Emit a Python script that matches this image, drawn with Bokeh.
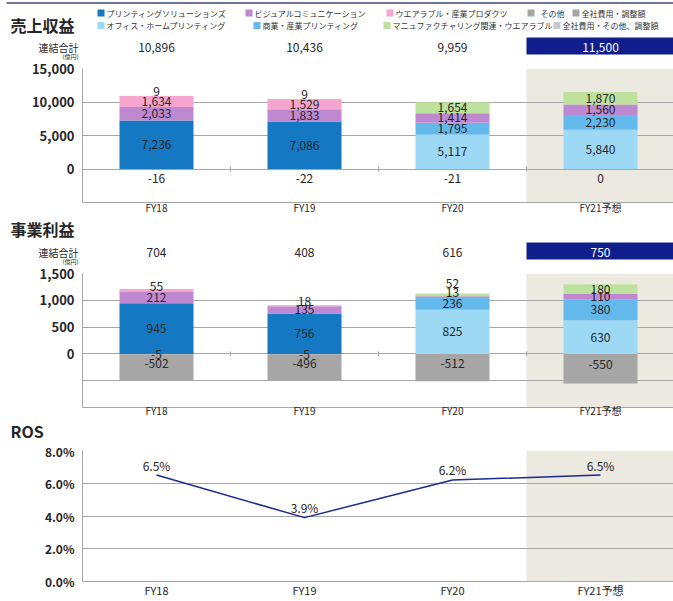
from bokeh.plotting import figure
from bokeh.layouts import column
from bokeh.models import (ColumnDataSource, FixedTicker, Range1d, BoxAnnotation,
                          NumeralTickFormatter, PrintfTickFormatter)
from bokeh.core.properties import value
from bokeh.embed import file_html
from bokeh.resources import INLINE
import math

# ---------------- data ----------------
years = ["FY18", "FY19", "FY20", "FY21予想"]

# 売上収益 (億円)
rev_printing_solutions = [7236, 7086, None, None]
rev_office_home = [None, None, 5117, 5840]
rev_commercial_industrial = [None, None, 1795, 2230]
rev_visual = [2033, 1833, 1414, 1560]
rev_wearable_industrial = [1634, 1529, None, None]
rev_manufacturing = [None, None, 1654, 1870]
rev_other = [9, 9, None, None]
rev_corporate = [-16, -22, -21, 0]
rev_total = [10896, 10436, 9959, 11500]

# 事業利益 (億円)
op_printing_solutions = [945, 756, None, None]
op_office_home = [None, None, 825, 630]
op_commercial_industrial = [None, None, 236, 380]
op_visual = [212, 135, 13, 110]
op_wearable_industrial = [55, 18, None, None]
op_manufacturing = [None, None, 52, 180]
op_other = [-5, -5, None, None]
op_corporate = [-502, -496, -512, -550]
op_total = [704, 408, 616, 750]

# ROS (%)
ros = [6.5, 3.9, 6.2, 6.5]

legend_row1 = ["プリンティングソリューションズ", "ビジュアルコミュニケーション",
               "ウエアラブル・産業プロダクツ", "その他", "全社費用・調整額"]
legend_row2 = ["オフィス・ホームプリンティング", "商業・産業プリンティング",
               "マニュファクチャリング関連・ウエアラブル", "全社費用・その他、調整額"]

rev_ticks = [-5000, 0, 5000, 10000, 15000]
op_ticks = [-1000, -500, 0, 500, 1000, 1500]
ros_ticks = [0, 2, 4, 6, 8]

# ---------------- style ----------------
JP = "Noto Sans CJK JP"
C_PS = "#1479C2"
C_OH = "#9DD9F5"
C_COM = "#63B8EC"
C_VIS = "#BE89D1"
C_WEAR = "#F6A6CE"
C_MFG = "#BEE29E"
C_OTHER = "#A6A6A6"
C_CORP = "#A6A6A6"
C_CORP2 = "#C9C9C9"
NAVY = "#101E8C"
LINE = "#1B2A8E"
SHADE = "#ECE9E0"
GRID = "#A6A6A6"
TEXT = "#262626"
RULE = "#3C4877"

W = 673
LEFT = 82
CAT_PX = 148
X_END = (W - LEFT) / CAT_PX
xs = [i + 0.5 for i in range(len(years))]
boundaries = [float(i) for i in range(1, len(years))]

seg_colors = [C_PS, C_OH, C_COM, C_VIS, C_WEAR, C_MFG, C_OTHER, C_CORP]


def px(page_x):
    """page x pixel -> shared data x"""
    return (page_x - LEFT) / CAT_PX


# ---------------- header figures (text rows) ----------------
def header_fig(h):
    p = figure(width=W, height=h, x_range=Range1d(px(0), px(W)), y_range=Range1d(h, 0),
               min_border_left=0, min_border_right=0, min_border_top=0, min_border_bottom=0,
               x_axis_location=None, y_axis_location=None, frame_align=False,
               output_backend="svg", toolbar_location=None)
    p.outline_line_color = None
    p.grid.visible = False
    return p


def htext(p, x, y, text, size, color=TEXT, align="center", style="normal"):
    p.text(x=[x], y=[y], text=[text], text_font=value(JP), text_font_size=size,
           text_color=color, text_align=align, text_baseline="middle",
           text_font_style=style)


def header_row(p, totals, y, box_top, box_bottom, unit_y):
    htext(p, px(78), y, "連結合計", "10px", align="right")
    htext(p, px(70), unit_y, "(億円)", "6px")
    p.quad(left=[xs[-1] - 0.5], right=[X_END + 0.5], top=[box_top], bottom=[box_bottom],
           fill_color=NAVY, line_color=None)
    src = ColumnDataSource(dict(x=xs, y=[y] * len(xs), t=[f"{v:,}" for v in totals],
                                c=[TEXT] * (len(xs) - 1) + ["white"]))
    p.text(x="x", y="y", text="t", text_color="c", source=src, text_font=value(JP),
           text_font_size="12px", text_align="center", text_baseline="middle")


# ---------------- chart figures ----------------
def chart_fig(height, top, bottom, y0, y1, ticks, standoff):
    p = figure(width=W, height=height, min_border_left=LEFT, min_border_right=0,
               min_border_top=top, min_border_bottom=bottom, frame_align=False,
               x_range=Range1d(0, X_END), y_range=Range1d(y0, y1),
               output_backend="svg", toolbar_location=None)
    p.outline_line_color = None
    p.xgrid.grid_line_color = None
    p.ygrid.grid_line_color = GRID
    p.ygrid.ticker = FixedTicker(ticks=ticks)
    p.add_layout(BoxAnnotation(left=xs[-1] - 0.5, fill_color=SHADE, fill_alpha=1,
                               line_color=None, level="image"))
    for ax in (p.xaxis[0], p.yaxis[0]):
        ax.axis_line_color = GRID
        ax.major_tick_line_color = None
        ax.minor_tick_line_color = None
        ax.major_tick_out = 0
        ax.major_tick_in = 0
        ax.minor_tick_out = 0
        ax.minor_tick_in = 0
        ax.major_label_text_font = JP
        ax.major_label_text_color = TEXT
        ax.major_label_text_line_height = 1.0
    xa = p.xaxis[0]
    xa.ticker = FixedTicker(ticks=xs)
    xa.major_label_overrides = {x: yr for x, yr in zip(xs, years)}
    xa.major_label_text_font_size = "10px"
    xa.major_label_standoff = standoff
    ya = p.yaxis[0]
    ya.ticker = FixedTicker(ticks=ticks)
    ya.major_label_text_font_style = "bold"
    ya.major_label_standoff = 8
    return p


def stacked(p, series, span):
    bars = dict(x=[], bottom=[], top=[], color=[])
    labs = dict(x=[], y=[], text=[], dy=[])
    for i in range(len(years)):
        present = [(s[i], c) for s, c in zip(series, seg_colors) if s[i] is not None]
        nonpos = [v for v, _ in present if v <= 0]
        pos = 0.0
        neg = 0.0
        k = 0
        nidx = 0
        for v, c in present:
            if v > 0:
                b, t = pos, pos + v
                pos = t
            else:
                b, t = neg, neg + v
                neg = t
            bars["x"].append(xs[i]); bars["bottom"].append(b); bars["top"].append(t)
            bars["color"].append(c)
            small = abs(v) / span < 0.03
            if v > 0:
                y, dy = (b + t) / 2, (-4 - 7 * k if small else 0)
                if small:
                    k += 1
            else:
                nidx += 1
                last = nidx == len(nonpos)
                if small and last:
                    y, dy = t, 9
                elif small:
                    y, dy = (b + t) / 2, 0
                else:
                    y, dy = (b + t) / 2, -4
            labs["x"].append(xs[i]); labs["y"].append(y)
            labs["text"].append(f"{v:,}"); labs["dy"].append(dy)
    p.vbar(x="x", bottom="bottom", top="top", width=0.5, fill_color="color",
           line_color=None, source=ColumnDataSource(bars))
    p.text(x="x", y="y", text="text", y_offset="dy", source=ColumnDataSource(labs),
           text_font=value(JP), text_font_size="12px", text_color=TEXT,
           text_align="center", text_baseline="middle")
    # small category-boundary tick marks on the zero line
    p.scatter(x=boundaries, y=[0] * len(boundaries), marker="dash", angle=math.pi / 2,
              size=5, line_color=GRID, line_width=1)


# ---------------- header 1: title + legend + totals ----------------
h1 = header_fig(60)
h1.segment(x0=[px(6)], y0=[2.5], x1=[px(W)], y1=[2.5], line_color=RULE, line_width=1.5)
htext(h1, px(10), 24, "売上収益", "16px", align="left", style="bold")
leg1_x = [97, 245, 386, 527, 572]
leg2_x = [97, 253, 383, 553]
leg1_col = [C_PS, C_VIS, C_WEAR, C_OTHER, C_CORP]
leg2_col = [C_OH, C_COM, C_MFG, C_CORP2]
for names, pxs, cols, yy in [(legend_row1, leg1_x, leg1_col, 12.5),
                             (legend_row2, leg2_x, leg2_col, 25)]:
    h1.scatter(x=[px(v + 3.5) for v in pxs], y=[yy] * len(pxs), marker="square", size=7,
               fill_color=cols, line_color=None)
    for n, v in zip(names, pxs):
        gap = 13 if n == "その他" else 9
        htext(h1, px(v + gap), yy, n, "8px", color="#333333", align="left")
header_row(h1, rev_total, 47, 37, 54, 55.5)

# ---------------- chart 1: 売上収益 ----------------
c1 = chart_fig(158, 8, 16, rev_ticks[0], rev_ticks[-1], rev_ticks, -3)
c1.yaxis[0].formatter = NumeralTickFormatter(format="0,0")
c1.yaxis[0].major_label_overrides = {rev_ticks[0]: ""}
c1.yaxis[0].major_label_text_font_size = "13px"
stacked(c1, [rev_printing_solutions, rev_office_home, rev_commercial_industrial, rev_visual,
             rev_wearable_industrial, rev_manufacturing, rev_other, rev_corporate],
        rev_ticks[-1] - rev_ticks[0])

# ---------------- header 2 ----------------
h2 = header_fig(47)
htext(h2, px(10), 10, "事業利益", "16px", align="left", style="bold")
header_row(h2, op_total, 33.5, 24, 41, 43)

# ---------------- chart 2: 事業利益 ----------------
c2 = chart_fig(155, 8, 13, op_ticks[0], op_ticks[-1], op_ticks, -5)
c2.yaxis[0].formatter = NumeralTickFormatter(format="0,0")
c2.yaxis[0].major_label_overrides = {t: "" for t in op_ticks if t < 0}
c2.yaxis[0].major_label_text_font_size = "13px"
stacked(c2, [op_printing_solutions, op_office_home, op_commercial_industrial, op_visual,
             op_wearable_industrial, op_manufacturing, op_other, op_corporate],
        op_ticks[-1] - op_ticks[0])

# ---------------- header 3 ----------------
h3 = header_fig(22)
htext(h3, px(10), 10, "ROS", "16px", align="left", style="bold")

# ---------------- chart 3: ROS ----------------
c3 = chart_fig(158, 8, 19, ros_ticks[0], ros_ticks[-1], ros_ticks, 0)
c3.yaxis[0].formatter = PrintfTickFormatter(format="%.1f%%")
c3.yaxis[0].major_label_text_font_size = "12px"
c3.xaxis[0].major_label_text_font_size = "11px"
src = ColumnDataSource(dict(x=xs, y=ros, t=[f"{v:.1f}%" for v in ros]))
c3.line(x="x", y="y", source=src, line_color=LINE, line_width=1.5)
c3.text(x="x", y="y", text="t", source=src, y_offset=-10, text_font=value(JP),
        text_font_size="12px", text_color=TEXT, text_align="center", text_baseline="middle")

layout = column(h1, c1, h2, c2, h3, c3, spacing=0)
open("out.html", "w").write(file_html(layout, INLINE))
